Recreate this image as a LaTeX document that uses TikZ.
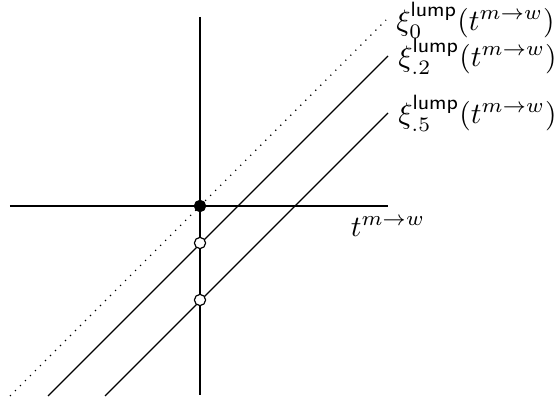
\documentclass[tikz,border=0pt]{standalone}
\usepackage{amsmath}
\begin{document}
\begin{tikzpicture}[x=0.339pt,y=-0.339pt,
  axis/.style={line width=0.4pt},
  lumpline/.style={line width=0.4pt},
  filldot/.style={circle,fill=black,draw=black,inner sep=0pt,minimum size=3.8pt},
  opendot/.style={circle,fill=white,draw=black,line width=0.4pt,inner sep=0pt,minimum size=3.8pt},
  lbl/.style={right}]
\useasboundingbox (0,0) rectangle (558,402);
% axes
\coordinate (xl) at (10,206);
\coordinate (xr) at (388,206);
\coordinate (yt) at (200,17);
\coordinate (yb) at (200,395);
\draw[axis] (xl) -- (xr);
\draw[axis] (yt) -- (yb);
\node[below] (tlab) at (xr) {$t^{m\to w}$};
% lines
\coordinate (a0) at (10,396);
\coordinate (b0) at (386,20);
\coordinate (a2) at (48,396);
\coordinate (b2) at (388,56);
\coordinate (a5) at (105,396);
\coordinate (b5) at (388,113);
\draw[lumpline,dotted] (a0) -- (b0);
\draw[lumpline] (a2) -- (b2);
\draw[lumpline] (a5) -- (b5);
\node[lbl] (l0) at (b0) {$\xi_0^{\textsf{lump}}(t^{m\to w})$};
\node[lbl] (l2) at (b2) {$\xi_{.2}^{\textsf{lump}}(t^{m\to w})$};
\node[lbl] (l5) at (b5) {$\xi_{.5}^{\textsf{lump}}(t^{m\to w})$};
% points
\node[filldot] (p0) at (200,206) {};
\node[opendot] (p2) at (200,243) {};
\node[opendot] (p5) at (200,300) {};
\end{tikzpicture}
\end{document}
